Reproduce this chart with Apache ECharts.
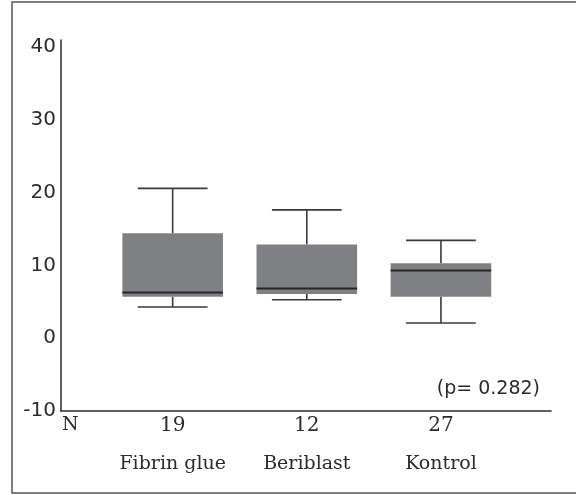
<!DOCTYPE html>
<html>
<head>
<meta charset="utf-8">
<script src="https://cdn.jsdelivr.net/npm/echarts@6/dist/echarts.min.js"></script>
<style>html,body{margin:0;padding:0;background:#fff}#c{width:576px;height:495px}</style>
</head>
<body>
<div id="c"></div>
<script>
// ---- data ----
var categories = ['Fibrin glue', 'Beriblast', 'Kontrol'];
var nValues = ['19', '12', '27'];
// [lower whisker, Q1, median, Q3, upper whisker]
var fibrinGlue = [4.3, 5.7, 6.3, 14.45, 20.6];
var beriblast = [5.3, 6.1, 6.85, 12.9, 17.65];
var kontrol = [2.1, 5.7, 9.3, 10.3, 13.45];
var yTicks = [-10, 0, 10, 20, 30, 40];
var pText = '(p= 0.282)';
var nLabel = 'N';

var boxes = [fibrinGlue, beriblast, kontrol];
var seriesData = boxes.map(function (b, i) { return [i].concat(b); });

var chart = echarts.init(document.getElementById('c'), null, {renderer: 'canvas'});
var yMin = yTicks[0], yMax = 41;
var sans = 'DejaVu Sans', serif = 'DejaVu Serif';
var ink = '#2b2b2b';

chart.setOption({
  animation: false,
  backgroundColor: '#fff',
  grid: [
    {left: 61, right: 25, top: 40, bottom: 84},
    {left: 105.6, right: 68, top: 40, bottom: 84}
  ],
  xAxis: [
    {gridIndex: 0, type: 'value', min: 0, max: 1, position: 'bottom',
     axisLine: {show: true, onZero: false, lineStyle: {color: ink, width: 1.5}},
     axisTick: {show: false}, axisLabel: {show: false}, splitLine: {show: false}},
    {gridIndex: 1, type: 'category', data: categories, boundaryGap: true, position: 'bottom',
     axisLine: {show: false, onZero: false}, axisTick: {show: false}, splitLine: {show: false},
     axisLabel: {show: true, interval: 0, hideOverlap: false, margin: 44, color: ink, fontFamily: serif, fontSize: 19}},
    {gridIndex: 1, type: 'category', data: nValues, boundaryGap: true, position: 'bottom',
     axisLine: {show: false, onZero: false}, axisTick: {show: false}, splitLine: {show: false},
     axisLabel: {show: true, interval: 0, margin: 5, color: ink, fontFamily: serif, fontSize: 20}}
  ],
  yAxis: [
    {gridIndex: 0, type: 'value', min: yMin, max: yMax, interval: 10,
     axisLine: {show: true, onZero: false, lineStyle: {color: ink, width: 1.5}},
     axisTick: {show: false}, splitLine: {show: false},
     axisLabel: {margin: 5, color: ink, fontFamily: sans, fontSize: 20,
       formatter: function (v) { return yTicks.indexOf(v) >= 0 ? String(v) : ''; }}},
    {gridIndex: 1, type: 'value', min: yMin, max: yMax, show: false}
  ],
  series: [{
    type: 'custom',
    xAxisIndex: 1, yAxisIndex: 1,
    data: seriesData,
    encode: {x: 0, y: [1, 2, 3, 4, 5]},
    renderItem: function (params, api) {
      var i = api.value(0);
      var band = api.size([1, 0])[0];
      var cx = api.coord([i, 0])[0];
      var yl = api.coord([i, api.value(1)])[1];
      var yq1 = api.coord([i, api.value(2)])[1];
      var ym = api.coord([i, api.value(3)])[1];
      var yq3 = api.coord([i, api.value(4)])[1];
      var yh = api.coord([i, api.value(5)])[1];
      var bw = band * 0.375, cw = band * 0.26;
      var ls = {stroke: '#3a3a3a', lineWidth: 1.6};
      return {type: 'group', children: [
        {type: 'line', shape: {x1: cx, y1: yh, x2: cx, y2: yq3}, style: ls},
        {type: 'line', shape: {x1: cx - cw, y1: yh, x2: cx + cw, y2: yh}, style: ls},
        {type: 'line', shape: {x1: cx, y1: yl, x2: cx, y2: yq1}, style: ls},
        {type: 'line', shape: {x1: cx - cw, y1: yl, x2: cx + cw, y2: yl}, style: ls},
        {type: 'rect', shape: {x: cx - bw, y: yq3, width: 2 * bw, height: yq1 - yq3},
         style: {fill: '#7f8083', stroke: null}},
        {type: 'line', shape: {x1: cx - bw, y1: ym, x2: cx + bw, y2: ym},
         style: {stroke: '#262626', lineWidth: 2}}
      ]};
    }
  }],
  graphic: [
    {type: 'rect', shape: {x: 12, y: 2, width: 600, height: 491},
     style: {fill: null, stroke: '#555', lineWidth: 1.5}, silent: true},
    {type: 'text', left: 62, top: 416,
     style: {text: nLabel, font: '19px "DejaVu Serif"', fill: ink}},
    {type: 'text', right: 36, top: 380,
     style: {text: pText, font: '19px "DejaVu Sans"', fill: ink}}
  ]
});
</script>
</body>
</html>
